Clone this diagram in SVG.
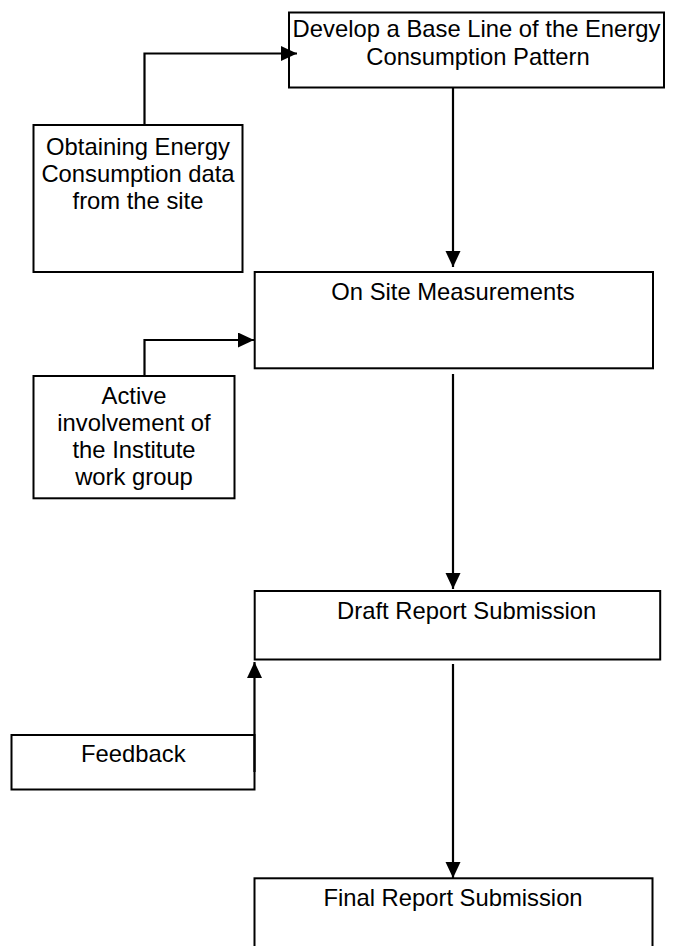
<svg xmlns="http://www.w3.org/2000/svg" width="673" height="946" viewBox="0 0 673 946">
<style>
.box{fill:#fff;stroke:#000;stroke-width:2}
.lbl{font-family:"Liberation Sans",Arial,sans-serif;font-size:23.8px;fill:#000;text-anchor:middle}
.conn{fill:none;stroke:#000;stroke-width:2.2}
</style>
<defs>
<marker id="arr" markerUnits="userSpaceOnUse" markerWidth="17" markerHeight="16" refX="16" refY="7.5" orient="auto">
<path d="M0,0 L16,7.5 L0,15 z" fill="#000"/>
</marker>
</defs>
<rect width="673" height="946" fill="#fff"/>
<g id="develop">
<rect class="box" x="289" y="12.5" width="375" height="75"/>
<text class="lbl" x="476.5" y="36.7">Develop a Base Line of the Energy</text>
<text class="lbl" x="478" y="65">Consumption Pattern</text>
</g>
<g id="obtaining">
<rect class="box" x="33.5" y="125" width="209" height="147"/>
<text class="lbl" x="138" y="154.5">Obtaining Energy</text>
<text class="lbl" x="138" y="181.5">Consumption data</text>
<text class="lbl" x="138" y="208.5">from the site</text>
</g>
<g id="onsite">
<rect class="box" x="254.7" y="272" width="398.3" height="96.3"/>
<text class="lbl" x="453" y="300">On Site Measurements</text>
</g>
<g id="active">
<rect class="box" x="33.5" y="376" width="201" height="122.3"/>
<text class="lbl" x="134" y="403.5">Active</text>
<text class="lbl" x="134" y="430.5">involvement of</text>
<text class="lbl" x="134" y="457.5">the Institute</text>
<text class="lbl" x="134" y="484.5">work group</text>
</g>
<g id="draft">
<rect class="box" x="254.7" y="591" width="405.5" height="68.5"/>
<text class="lbl" x="466.7" y="619.3">Draft Report Submission</text>
</g>
<g id="feedback">
<rect class="box" x="11.5" y="735" width="243" height="54.5"/>
<text class="lbl" x="133.3" y="761.7">Feedback</text>
</g>
<g id="final">
<rect class="box" x="254.5" y="878.3" width="398" height="80"/>
<text class="lbl" x="453" y="906">Final Report Submission</text>
</g>
<g id="connectors">
<path class="conn" d="M144.5,125 V53.5 H297" marker-end="url(#arr)"/>
<path class="conn" d="M144.5,376 V340 H254" marker-end="url(#arr)"/>
<path class="conn" d="M453,87.5 V267" marker-end="url(#arr)"/>
<path class="conn" d="M453,374 V589" marker-end="url(#arr)"/>
<path class="conn" d="M453,664 V878" marker-end="url(#arr)"/>
<path class="conn" d="M254.5,772 V662" marker-end="url(#arr)"/>
</g>
</svg>
